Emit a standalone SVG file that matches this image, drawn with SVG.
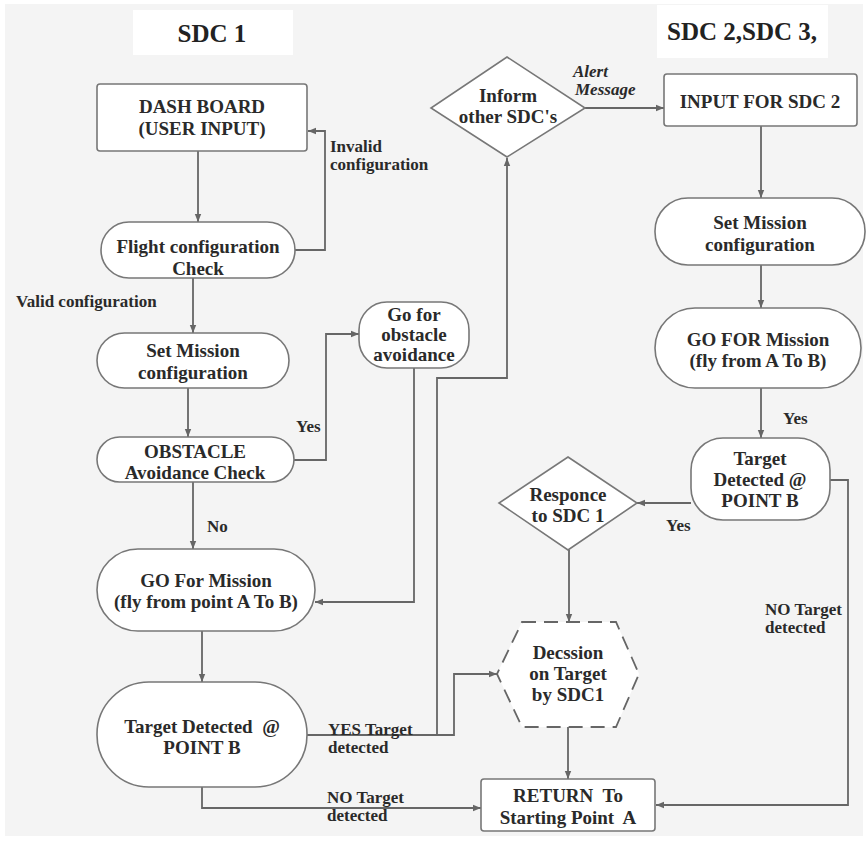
<svg xmlns="http://www.w3.org/2000/svg" width="868" height="843" viewBox="0 0 868 843">
<defs>
<marker id="ah" viewBox="0 0 10 10" refX="10" refY="5" markerWidth="8" markerHeight="8" markerUnits="userSpaceOnUse" orient="auto">
<path d="M0,1 L10,5 L0,9 z" fill="#666"/>
</marker>
<style>
.n{fill:#fff;stroke:#777;stroke-width:1.6}
.d{fill:#fff;stroke:#666;stroke-width:1.8;stroke-dasharray:14,8}
.t{font-family:"Liberation Serif","Times New Roman",serif;font-weight:bold;font-size:19px;fill:#2a2a2a;text-anchor:middle;white-space:pre}
.l{font-family:"Liberation Serif","Times New Roman",serif;font-weight:bold;font-size:17px;fill:#2a2a2a}
.i{font-style:italic}
.h{font-family:"Liberation Serif","Times New Roman",serif;font-weight:bold;font-size:25px;fill:#222;text-anchor:middle}
.c{fill:none;stroke:#666;stroke-width:1.8}
</style>
</defs>
<rect x="0" y="0" width="868" height="843" fill="#fff"/>
<rect x="5" y="4" width="858" height="832" fill="#f4f4f4"/>
<g id="title1"><rect x="133" y="10" width="160" height="45" fill="#fff"/><text class="h" x="212" y="42">SDC 1</text></g>
<g id="title2"><rect x="657" y="5" width="171" height="53" fill="#fff"/><text class="h" x="742" y="40">SDC 2,SDC 3,</text></g>

<g id="connectors">
<path class="c" d="M198,151 V222" marker-end="url(#ah)"/>
<path class="c" d="M295,250 H325 V131 H308" marker-end="url(#ah)"/>
<path class="c" d="M193,278 V333" marker-end="url(#ah)"/>
<path class="c" d="M188,388 V437" marker-end="url(#ah)"/>
<path class="c" d="M294,460 H326 V334 H359" marker-end="url(#ah)"/>
<path class="c" d="M193,482 V549" marker-end="url(#ah)"/>
<path class="c" d="M414,368 V602 H315" marker-end="url(#ah)"/>
<path class="c" d="M202,631 V682" marker-end="url(#ah)"/>
<path class="c" d="M307,735 H454 V674 H497" marker-end="url(#ah)"/>
<path class="c" d="M437,735 V378 H507 V158" marker-end="url(#ah)"/>
<path class="c" d="M585,108 H664" marker-end="url(#ah)"/>
<path class="c" d="M761,126 V198" marker-end="url(#ah)"/>
<path class="c" d="M761,265 V308" marker-end="url(#ah)"/>
<path class="c" d="M761,388 V438" marker-end="url(#ah)"/>
<path class="c" d="M691,503 H637" marker-end="url(#ah)"/>
<path class="c" d="M830,480 H848 V805 H656" marker-end="url(#ah)"/>
<path class="c" d="M569,550 V622" marker-end="url(#ah)"/>
<path class="c" d="M568,727 V779" marker-end="url(#ah)"/>
<path class="c" d="M202,787 V808 H481" marker-end="url(#ah)"/>
<text class="l" x="330" y="152">Invalid</text>
<text class="l" x="330" y="170">configuration</text>
<text class="l" x="16" y="307">Valid configuration</text>
<text class="l" x="296" y="432">Yes</text>
<text class="l" x="207" y="532">No</text>
<text class="l" x="328" y="735">YES Target</text>
<text class="l" x="328" y="753">detected</text>
<text class="l" x="327" y="803">NO Target</text>
<text class="l" x="327" y="821">detected</text>
<text class="l i" x="573" y="77">Alert</text>
<text class="l i" x="575" y="95">Message</text>
<text class="l" x="783" y="424">Yes</text>
<text class="l" x="666" y="531">Yes</text>
<text class="l" x="765" y="615">NO Target</text>
<text class="l" x="765" y="633">detected</text>
</g>

<g id="dashboard"><rect class="n" x="97" y="84" width="210" height="67" rx="3"/><text class="t" x="202" y="113">DASH BOARD</text><text class="t" x="202" y="135">(USER INPUT)</text></g>
<g id="flightcheck"><rect class="n" x="101" y="222" width="194" height="56" rx="28"/><text class="t" x="198" y="253">Flight configuration</text><text class="t" x="198" y="275">Check</text></g>
<g id="setmission1"><rect class="n" x="97" y="333" width="192" height="55" rx="27.5"/><text class="t" x="193" y="357">Set Mission</text><text class="t" x="193" y="379">configuration</text></g>
<g id="obstaclecheck"><rect class="n" x="97" y="437" width="197" height="45" rx="22.5"/><text class="t" x="195" y="458">OBSTACLE</text><text class="t" x="195" y="479">Avoidance Check</text></g>
<g id="goobstacle"><rect class="n" x="359" y="302" width="110" height="66" rx="28"/><text class="t" x="414" y="321">Go for</text><text class="t" x="414" y="341">obstacle</text><text class="t" x="414" y="361">avoidance</text></g>
<g id="gomission1"><rect class="n" x="97" y="549" width="218" height="82" rx="41"/><text class="t" x="206" y="587">GO For Mission</text><text class="t" x="206" y="608">(fly from point A To B)</text></g>
<g id="target1"><rect class="n" x="97" y="682" width="210" height="105" rx="52"/><text class="t" x="202" y="733">Target Detected  @</text><text class="t" x="202" y="754">POINT B</text></g>
<g id="inform"><polygon class="n" points="507,57 585,108 507,157 431,108"/><text class="t" x="508" y="102">Inform</text><text class="t" x="508" y="123">other SDC's</text></g>
<g id="input2"><rect class="n" x="664" y="74" width="193" height="52" rx="3"/><text class="t" x="760" y="108">INPUT FOR SDC 2</text></g>
<g id="setmission2"><rect class="n" x="655" y="198" width="210" height="67" rx="33"/><text class="t" x="760" y="229">Set Mission</text><text class="t" x="760" y="251">configuration</text></g>
<g id="gomission2"><rect class="n" x="655" y="308" width="206" height="80" rx="40"/><text class="t" x="758" y="346">GO FOR Mission</text><text class="t" x="758" y="367">(fly from A To B)</text></g>
<g id="target2"><rect class="n" x="691" y="438" width="139" height="82" rx="32"/><text class="t" x="760" y="465">Target</text><text class="t" x="760" y="486">Detected @</text><text class="t" x="760" y="507">POINT B</text></g>
<g id="responce"><polygon class="n" points="568,457 637,503 568,550 499,503"/><text class="t" x="568" y="501">Responce</text><text class="t" x="568" y="522">to SDC 1</text></g>
<g id="decision"><polygon class="d" points="522,622 616,622 639,674 616,727 522,727 497,674"/><text class="t" x="568" y="659">Decssion</text><text class="t" x="568" y="680">on Target</text><text class="t" x="568" y="701">by SDC1</text></g>
<g id="return"><rect class="n" x="481" y="779" width="174" height="52" rx="3"/><text class="t" x="568" y="802">RETURN  To</text><text class="t" x="568" y="824">Starting Point  A</text></g>
</svg>
